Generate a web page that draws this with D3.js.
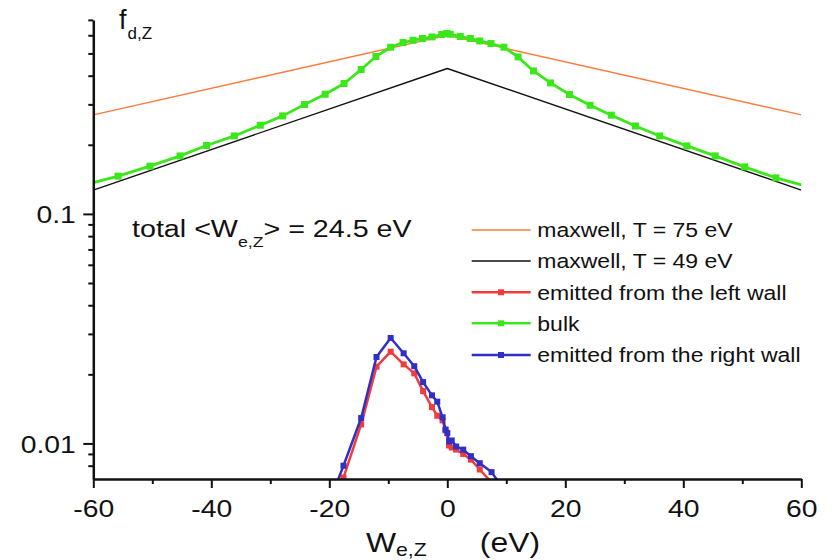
<!DOCTYPE html>
<html><head><meta charset="utf-8">
<script src="https://cdn.jsdelivr.net/npm/d3@7"></script>
<style>body{margin:0;background:#fff}svg{display:block}text{font-family:"Liberation Sans",Arial,sans-serif;fill:#111}</style>
</head><body><svg id="c" width="832" height="560"></svg>
<script>
// ---- data ----
const maxW = [-60, 0, 60];
const maxwell75 = [0.27, 0.6, 0.27];
const maxwell49 = [0.127, 0.43, 0.127];

const bulkW = [-61.3, -55.8, -50.4, -45.3, -40.8, -36.1, -31.7, -27.9, -24.2, -20.7, -17.5, -14.6, -12.1, -9.6, -7.5, -5.8, -4.2, -2.6, -0.95, -0.1, 0.5, 2.2, 3.9, 5.5, 7.4, 9.6, 12.0, 14.6, 17.5, 20.7, 24.2, 27.8, 31.9, 36.0, 40.6, 45.4, 50.4, 55.7, 61.3];
const bulkF = [0.134, 0.146, 0.1614, 0.1789, 0.1986, 0.2186, 0.2433, 0.2673, 0.2995, 0.3322, 0.3697, 0.4255, 0.4848, 0.5321, 0.5578, 0.5708, 0.5806, 0.5901, 0.6045, 0.6105, 0.6063, 0.5925, 0.5806, 0.5668, 0.5522, 0.5321, 0.4829, 0.4196, 0.3720, 0.3311, 0.2974, 0.2692, 0.2416, 0.2186, 0.1978, 0.1789, 0.1603, 0.1435, 0.131];

const leftW = [-20.9, -17.6, -14.6, -12.0, -9.6, -7.4, -5.6, -4.1, -2.6, -1.7, -0.8, -0.3, 0.3, 0.75, 1.5, 2.7, 4.0, 5.5, 7.4];
const leftF = [0.0042, 0.0071, 0.0121, 0.0216, 0.0251, 0.0221, 0.0202, 0.0169, 0.0144, 0.0132, 0.0126, 0.0114, 0.0098, 0.0096, 0.0094, 0.0090, 0.0085, 0.0077, 0.0068];

const rightW = [-20.9, -17.6, -14.6, -12.0, -9.6, -7.4, -5.6, -4.1, -2.6, -1.7, -0.8, -0.3, 0.0, 0.3, 0.75, 1.5, 2.7, 4.0, 5.5, 7.5, 9.6];
const rightF = [0.0048, 0.0080, 0.0129, 0.0238, 0.0288, 0.0247, 0.0217, 0.0185, 0.0162, 0.0152, 0.0130, 0.0115, 0.0111, 0.0102, 0.0103, 0.0097, 0.0094, 0.0088, 0.0082, 0.0075, 0.0063];

const xMajor = [-60, -40, -20, 0, 20, 40, 60];
const xMinor = [-50, -30, -10, 10, 30, 50];
const yMajor = [0.1, 0.01];
const yMinor = [0.7, 0.6, 0.5, 0.4, 0.3, 0.2, 0.09, 0.08, 0.07, 0.06, 0.05, 0.04, 0.03, 0.02, 0.009, 0.008];

const legendLabels = ["maxwell, T = 75 eV", "maxwell, T = 49 eV", "emitted from the left wall", "bulk", "emitted from the right wall"];
const colors = {orange: "#ff7a3d", black: "#111111", red: "#f03c3c", green: "#3ae81a", blue: "#3030c4"};

// ---- chart ----
const svg = d3.select("#c");
const SX = 1.18;
const x = d3.scaleLinear().domain([-60, 60]).range([93.3, 801.3]);
const y = d3.scaleLog().domain([0.007, 0.7]).range([479, 19.9]);

svg.append("defs").append("clipPath").attr("id", "plot")
  .append("rect").attr("x", x(-60)).attr("y", y(0.7)).attr("width", x(60) - x(-60)).attr("height", y(0.007) - y(0.7));

const plot = svg.append("g").attr("clip-path", "url(#plot)");
const line = d3.line().x(d => x(d[0])).y(d => y(d[1]));
const zip = (a, b) => a.map((v, i) => [v, b[i]]);

function series(W, F, color, width, markers, ms) {
  const pts = zip(W, F);
  plot.append("path").datum(pts).attr("d", line).attr("fill", "none")
    .attr("stroke", color).attr("stroke-width", width).attr("stroke-linejoin", "round");
  if (markers) {
    plot.append("g").selectAll("rect").data(pts).join("rect")
      .attr("x", d => x(d[0]) - ms / 2).attr("y", d => y(d[1]) - ms / 2)
      .attr("width", ms).attr("height", ms).attr("fill", color);
  }
}
series(maxW, maxwell75, colors.orange, 1.4, false);
series(maxW, maxwell49, colors.black, 1.4, false);
series(leftW, leftF, colors.red, 2.5, true, 6);
series(bulkW, bulkF, colors.green, 2.8, true, 7);
series(rightW, rightF, colors.blue, 2.5, true, 6);

// axes
const fmtX = d => d3.format("d")(d).replace("−", "-");
const gx = svg.append("g").attr("transform", `translate(0,${y(0.007)})`)
  .call(d3.axisBottom(x).tickValues(xMajor).tickSize(9).tickSizeOuter(0).tickPadding(12).tickFormat(fmtX));
svg.append("g").attr("transform", `translate(0,${y(0.007)})`)
  .call(d3.axisBottom(x).tickValues(xMinor).tickSize(5).tickSizeOuter(0).tickFormat(""))
  .select(".domain").remove();
const gy = svg.append("g").attr("transform", `translate(${x(-60)},0)`)
  .call(d3.axisLeft(y).tickValues(yMajor).tickSize(10).tickSizeOuter(0).tickFormat(d => d === 0.1 ? "0.1" : "0.01"));
svg.append("g").attr("transform", `translate(${x(-60)},0)`)
  .call(d3.axisLeft(y).tickValues(yMinor).tickSize(5).tickSizeOuter(0).tickFormat(""))
  .select(".domain").remove();

svg.selectAll(".domain").attr("stroke", "#111").attr("stroke-width", 2.5);
svg.selectAll(".tick line").attr("stroke", "#111").attr("stroke-width", 2);
gx.selectAll("text").attr("font-size", 24).attr("fill", "#111").attr("transform", `scale(${SX},1)`)
  .style("font-family", '"Liberation Sans",Arial,sans-serif');
gy.selectAll("text").attr("font-size", 24).attr("fill", "#111").attr("x", -17.5 / SX).attr("dy", "0.37em")
  .attr("transform", `scale(${SX},1)`).style("font-family", '"Liberation Sans",Arial,sans-serif');

// stretched text helper
function stext(px, py, fs, anchor) {
  return svg.append("g").attr("transform", `translate(${px},${py}) scale(${SX},1)`)
    .append("text").attr("font-size", fs).attr("text-anchor", anchor || "start");
}

// y title f_{d,Z}
const ty = svg.append("text").attr("x", 119).attr("y", 29).attr("font-size", 27);
ty.append("tspan").text("f");
ty.append("tspan").attr("font-size", 17).attr("dy", 10).attr("dx", 1).text("d,Z");

// x title W_{e,Z} (eV)
const tx = stext(366, 552, 27);
tx.append("tspan").text("W");
tx.append("tspan").attr("font-size", 18).attr("dy", 4).text("e,Z");
stext(540, 552, 27, "end").text("(eV)");

// annotation
const ta = stext(132, 237.3, 24.3);
ta.append("tspan").text("total <W");
ta.append("tspan").attr("font-size", 15).attr("dy", 10).text("e,Z");
ta.append("tspan").attr("dy", -10).text("> = 24.5 eV");

// legend
const legY = [230, 261, 292.3, 323.3, 355];
const legC = [colors.orange, colors.black, colors.red, colors.green, colors.blue];
const legWd = [1.4, 1.4, 2.5, 2.5, 2.5];
legendLabels.forEach((lab, i) => {
  svg.append("line").attr("x1", 471.7).attr("x2", 530.7).attr("y1", legY[i]).attr("y2", legY[i])
    .attr("stroke", legC[i]).attr("stroke-width", legWd[i]);
  if (i >= 2) svg.append("rect").attr("x", 498).attr("y", legY[i] - 3).attr("width", 6).attr("height", 6).attr("fill", legC[i]);
  stext(537.3, legY[i] + 7.3, 19.5).text(lab);
});
</script></body></html>
